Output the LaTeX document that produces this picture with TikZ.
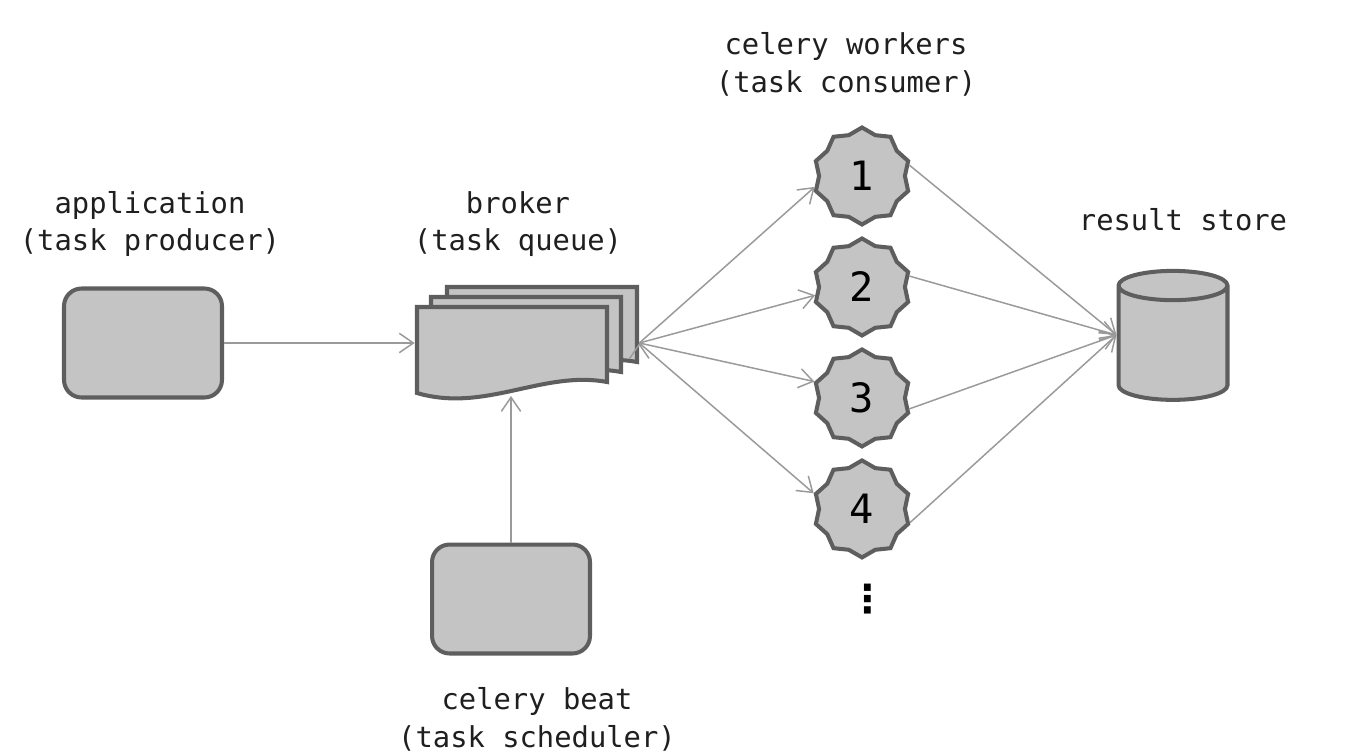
\documentclass[tikz,border=0pt]{standalone}
\usepackage{fontspec}
\setmonofont{DejaVu Sans Mono}
\newfontfamily\symfont{DejaVu Sans}
\usetikzlibrary{shapes.geometric,arrows.meta,positioning}
\definecolor{boxfill}{HTML}{C4C4C4}
\definecolor{boxline}{HTML}{5E5E5E}
\definecolor{endfill}{HTML}{DCDCDC}
\definecolor{arrowline}{HTML}{9A9A9A}
\tikzset{
  box/.style={draw=boxline, fill=boxfill, line width=2.3pt},
  app/.style={box, rounded corners=10pt, minimum width=3.16cm, minimum height=2.18cm},
  worker/.style={box, star, star points=10, star point ratio=1.13, minimum size=1.94cm, inner sep=0pt,
    font=\fontsize{23}{23}\selectfont\ttfamily},
  store/.style={box, cylinder, shape border rotate=90, aspect=2.5, minimum width=2.18cm, minimum height=2.58cm,
    cylinder uses custom fill, cylinder body fill=boxfill, cylinder end fill=endfill},
  caption/.style={align=center, font=\fontsize{16.4}{21.5}\selectfont\ttfamily, text=black!88},
  flow/.style={draw=arrowline, line width=0.85pt, -{Straight Barb[length=8pt,width=11pt]}},
  card/.pic={\draw[box] (0,0) -- (190,0) -- (190,75) .. controls (126,63) and (68,106) .. (0,86) -- cycle;}
}
\begin{document}
\begin{tikzpicture}[x=0.02cm, y=-0.02cm, node distance=2.22cm, on grid]
  \useasboundingbox (0,0) rectangle (1358,754);

  % producer and scheduler
  \node[app] (app) at (143,343) {};
  \node[app] (beat) at (511,599) {};

  % broker: stack of queued tasks
  \node[minimum width=4.48cm, minimum height=2.28cm, inner sep=0pt] (broker) at (527,343) {};
  \pic at (447,287) {card};
  \pic at (431,297) {card};
  \pic at (417,307) {card};
  \coordinate (qin) at (511,396);

  % workers
  \node[worker] (w1) at (862,176) {1};
  \node[worker, below=of w1] (w2) {2};
  \node[worker, below=of w2] (w3) {3};
  \node[worker, below=of w3] (w4) {4};
  \node[font=\fontsize{22}{22}\selectfont\symfont\bfseries] (more) at (868,599) {⋮};

  % result backend
  \node[store] (store) at (1173,347) {};
  \coordinate (res) at ([yshift=0.24cm]store.west);

  % captions
  \node[caption] (appcap) at (150,224) {application\\(task producer)};
  \node[caption] (brokercap) at (518,224) {broker\\(task queue)};
  \node[caption] (workercap) at (846,64) {celery workers\\(task consumer)};
  \node[caption] (storecap) at (1183,220) {result store};
  \node[caption] (beatcap) at (537,719) {celery beat\\(task scheduler)};

  \path[flow]
    (app) edge (broker.west)
    (beat) edge (qin)
    (broker.east) edge (w1.193)
    (broker.east) edge (w2.190)
    (broker.east) edge (w3.161)
    (broker.east) edge (w4.162);
  \draw[flow] (w1.13) -- (res);
  \draw[flow] (w2.13) -- (res);
  \draw[flow] (w3.347) -- (res);
  \draw[flow] (w4.344) -- (res);
\end{tikzpicture}
\end{document}
